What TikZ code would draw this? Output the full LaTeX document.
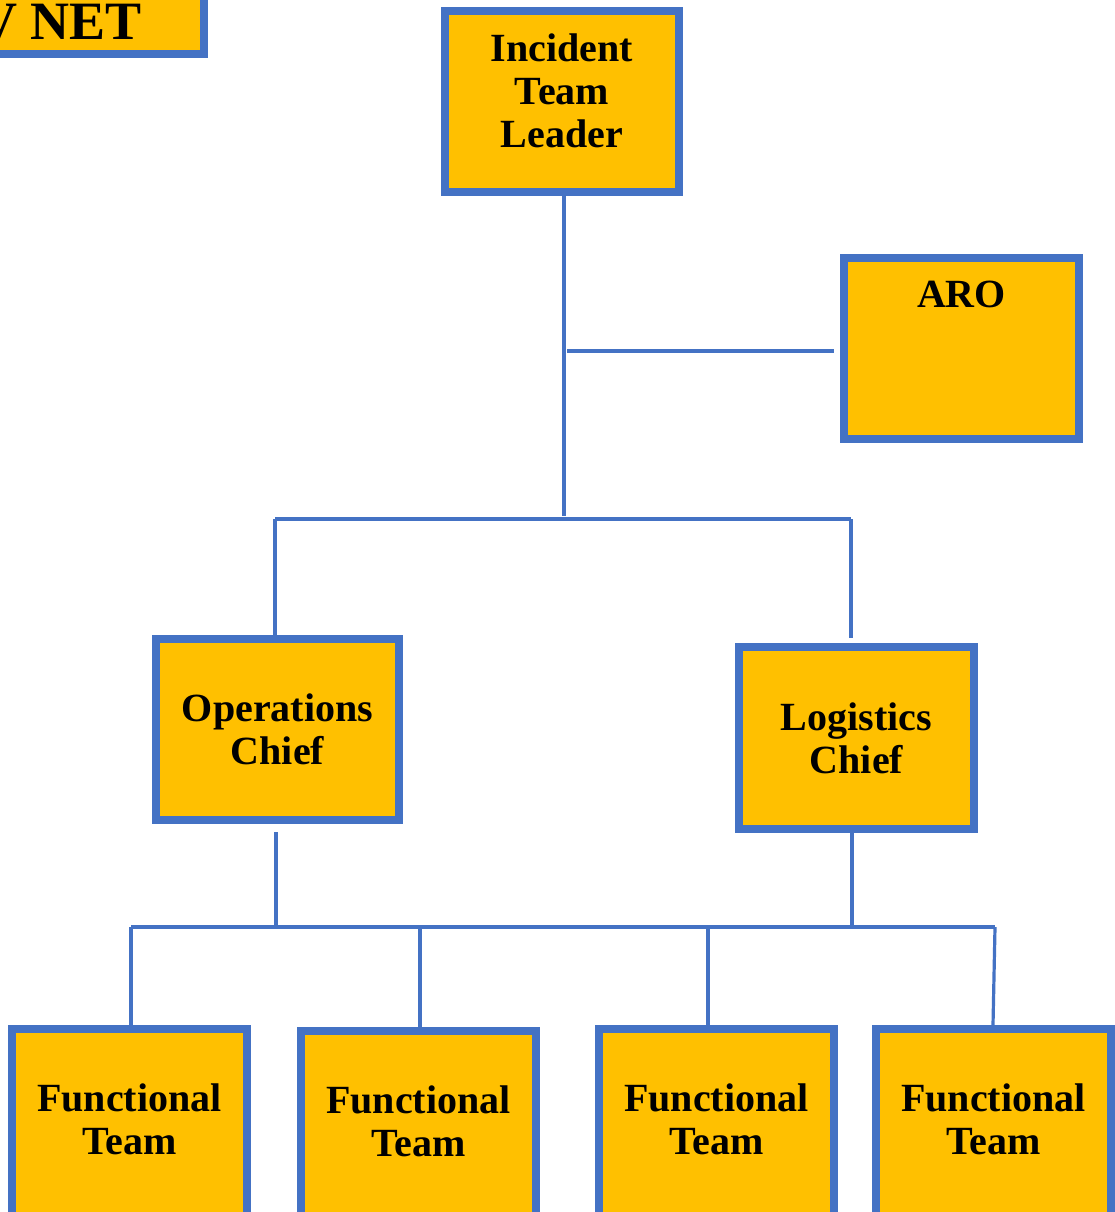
\documentclass[tikz,border=0pt]{standalone}
\usepackage{fontspec}
\setmainfont{Liberation Serif}
\definecolor{gold}{HTML}{FFC000}
\definecolor{bord}{HTML}{4472C4}
\tikzset{
  box/.style={draw=bord, fill=gold, line width=8pt, inner sep=0pt, align=center,
    font=\bfseries\fontsize{40}{43}\selectfont, text=black},
  boxtext/.style={inner sep=0pt, align=center, font=\bfseries\fontsize{40}{43}\selectfont, text=black},
  conn/.style={draw=bord, line width=3.2pt}
}
\begin{document}
\begin{tikzpicture}[x=1pt,y=-1pt]
\useasboundingbox (0,0) rectangle (1115,1212);
\clip (0,0) rectangle (1115,1212);
\fill[white] (0,0) rectangle (1115,1212);
% title box (cropped)
\path[draw=bord, fill=gold, line width=8pt] (-60,-60) rectangle (204,54);
\node[inner sep=0pt, anchor=base east, font=\bfseries\fontsize{54}{54}\selectfont] (title) at (142,40) {V NET};
% boxes
\node[box, minimum width=234pt, minimum height=181pt,
  label={[boxtext, yshift=11pt]center:Incident\\Team\\Leader}] (itl) at (562,101.5) {};
\node[box, minimum width=235pt, minimum height=181pt] (aro) at (961.5,348.5) {};
\node[boxtext, anchor=base] (arotext) at (961.5,307) {ARO};
\node[box, minimum width=243pt, minimum height=181pt] (ops) at (277.5,729.5) {Operations\\Chief};
\node[box, minimum width=235pt, minimum height=182pt] (log) at (856.5,738) {Logistics\\Chief};
\node[box, minimum width=235pt, minimum height=200pt,
  label={[boxtext, yshift=9.5pt]center:Functional\\Team}] (f1) at (129.5,1129) {};
\node[box, minimum width=235pt, minimum height=200pt,
  label={[boxtext, yshift=9.5pt]center:Functional\\Team}] (f2) at (418.5,1131) {};
\node[box, minimum width=235pt, minimum height=200pt,
  label={[boxtext, yshift=9.5pt]center:Functional\\Team}] (f3) at (716.5,1129) {};
\node[box, minimum width=235pt, minimum height=200pt,
  label={[boxtext, yshift=9.5pt]center:Functional\\Team}] (f4) at (993.5,1129) {};
% junction coordinates
\coordinate (jtop) at (564,516);
\coordinate (aroL) at (567,351);
\coordinate (jL) at (275,519);
\coordinate (jR) at (851,519);
\coordinate (opsB) at (276,832);
\coordinate (logB) at (852,833);
\coordinate (bL) at (131,927);
\coordinate (bR) at (995,927);
\coordinate (b2) at (420,927);
\coordinate (b3) at (708,927);
% connectors
\draw[conn] (itl.south -| jtop) -- (jtop);
\draw[conn, shorten >=6pt] (aroL) -- (aro.west |- aroL);
\draw[conn] (jL) -- (jR);
\draw[conn] (jL) -- (jL |- ops.north);
\draw[conn, shorten >=5pt] (jR) -- (jR |- log.north);
\draw[conn] (opsB) -- (opsB |- bL);
\draw[conn] (logB) -- (logB |- bL);
\draw[conn] (bL) -- (bR);
\draw[conn] (bL) -- (bL |- f1.north);
\draw[conn] (b2) -- (b2 |- f2.north);
\draw[conn] (b3) -- (b3 |- f3.north);
\draw[conn] (bR) -- (f4.north -| 993,0);
\end{tikzpicture}
\end{document}
